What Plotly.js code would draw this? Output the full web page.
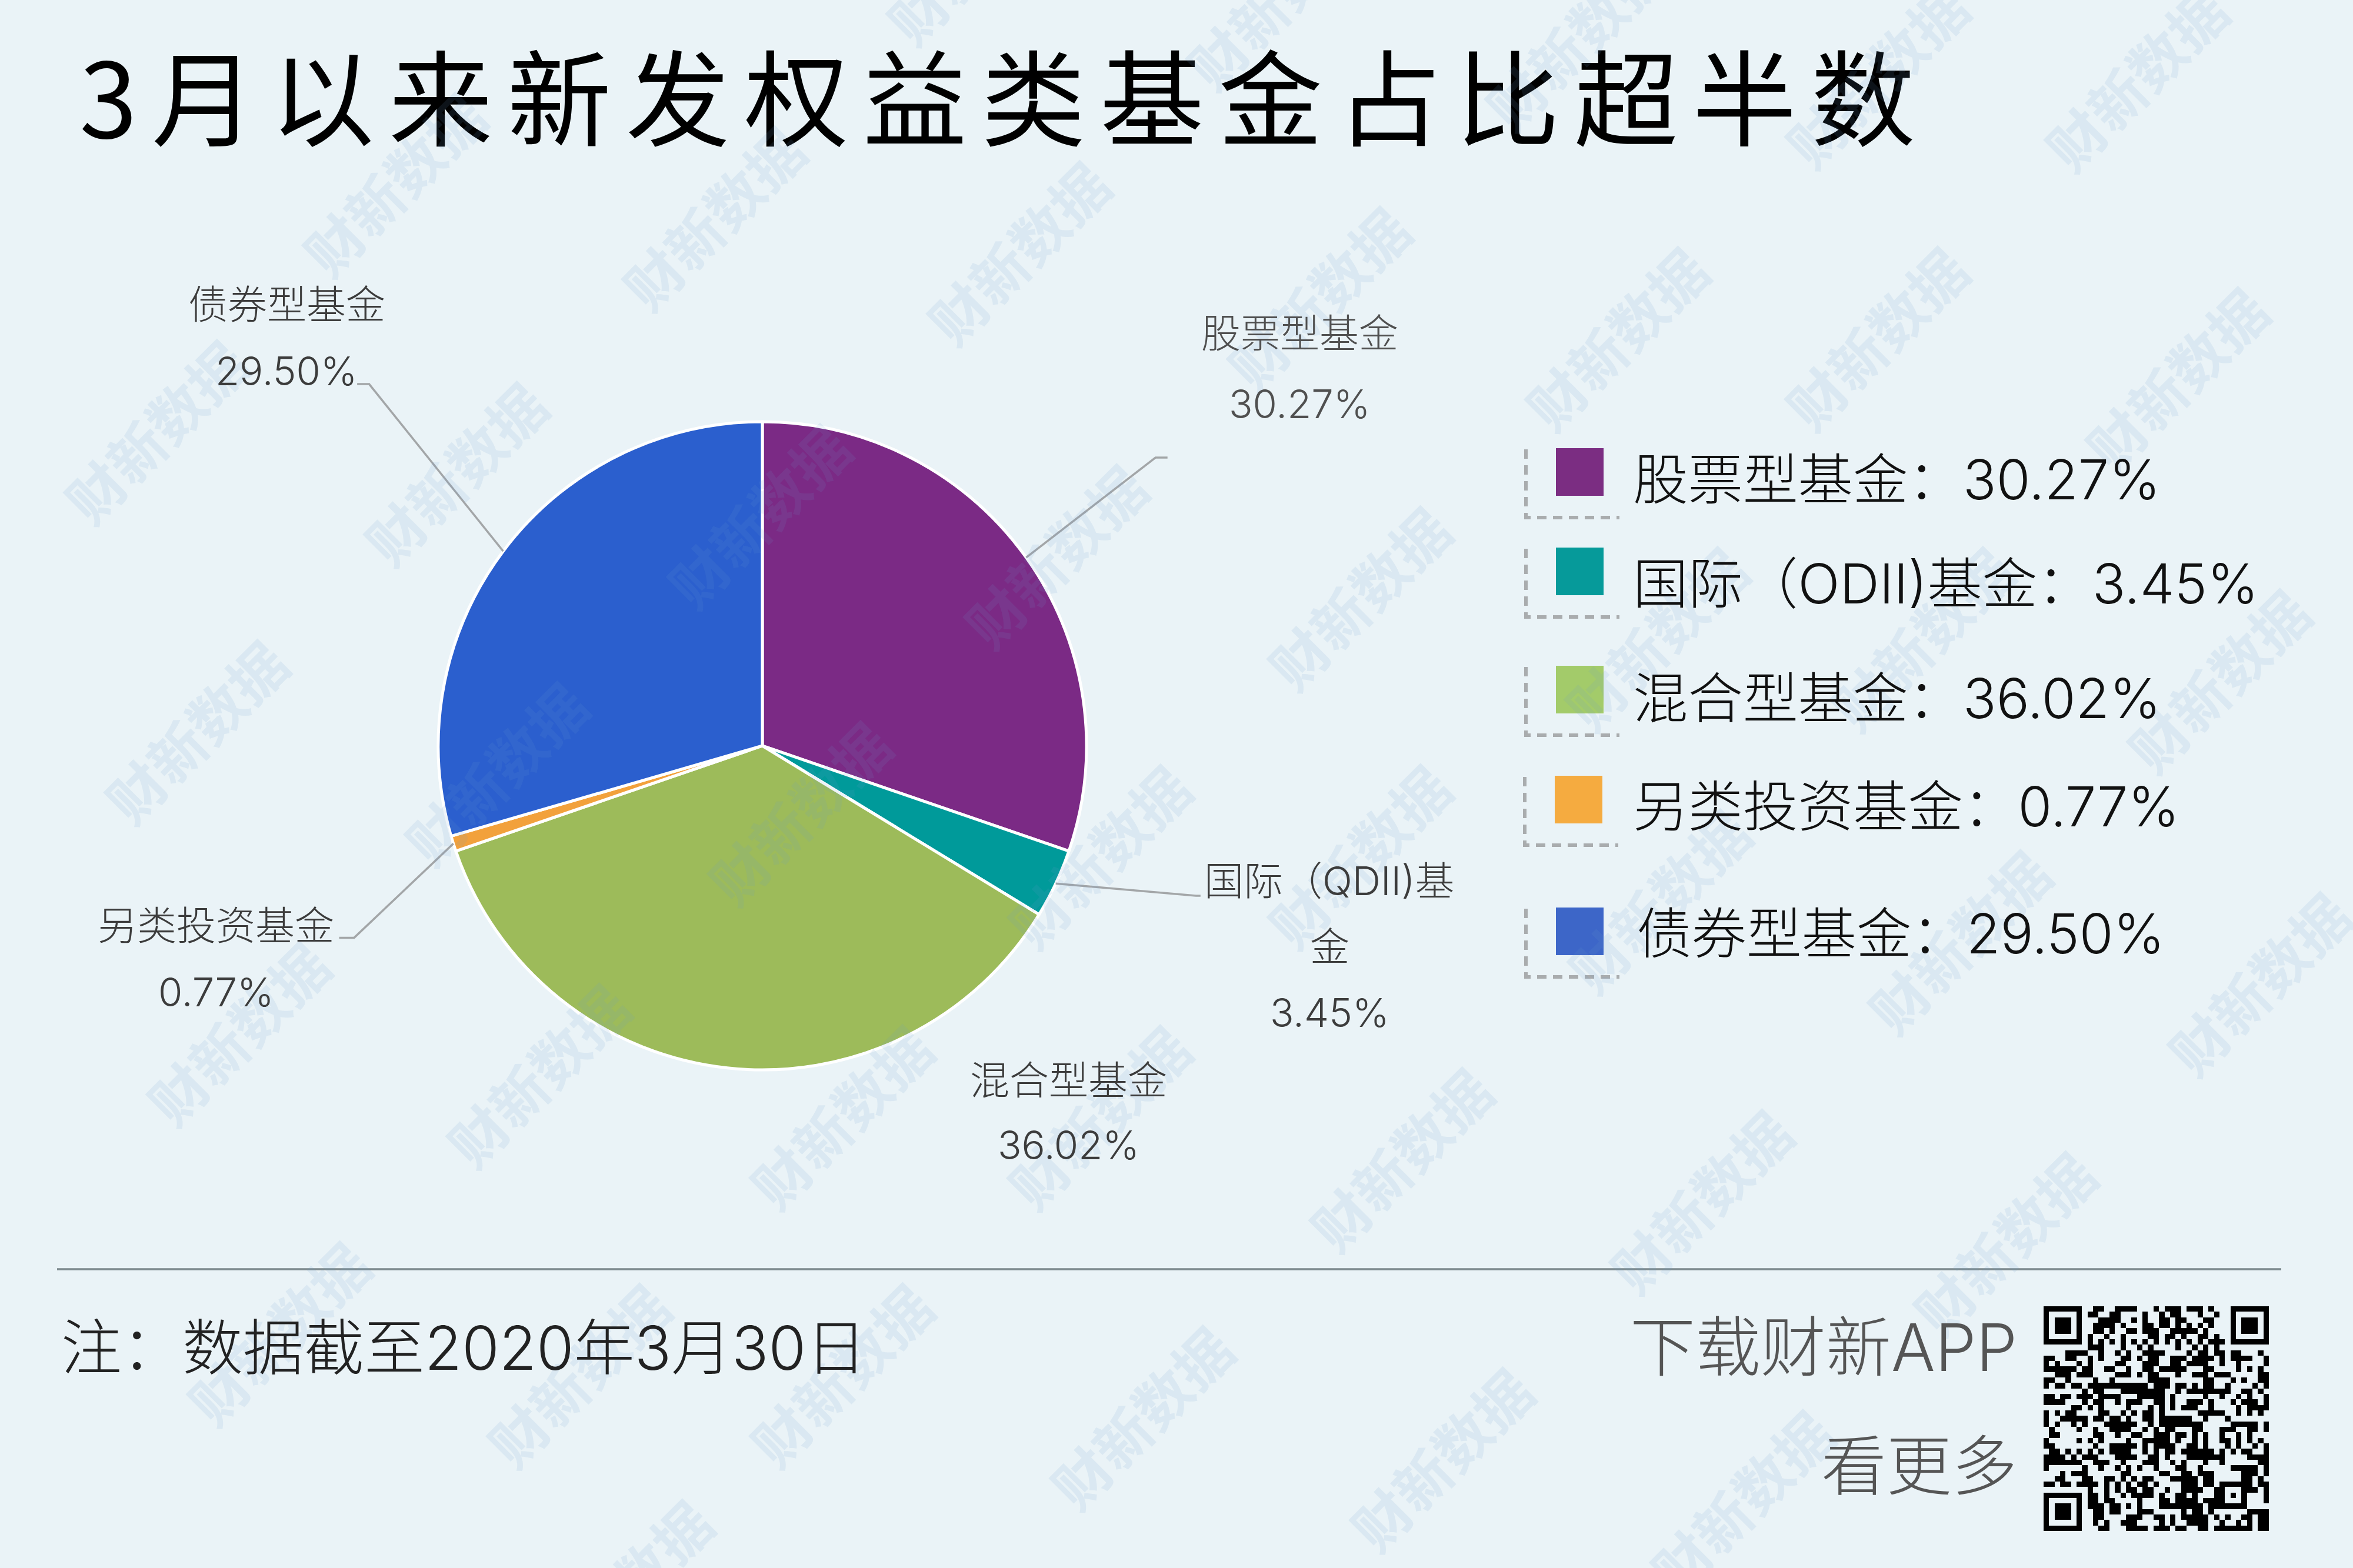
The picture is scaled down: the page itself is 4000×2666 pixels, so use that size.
<!DOCTYPE html>
<html><head><meta charset="utf-8">
<script src="https://cdn.plot.ly/plotly-3.0.1.min.js"></script>
<style>
html,body{margin:0;padding:0;background:#eaf3f7}
#c{width:4000px;height:2666px}
.gtitle{letter-spacing:24.5px}
</style></head><body><div id="c"></div>
<script>
const categories=['股票型基金','国际（QDII)基金','混合型基金','另类投资基金','债券型基金'];
const shares=[30.27,3.45,36.02,0.77,29.50];
const shareLabels=['30.27%','3.45%','36.02%','0.77%','29.50%'];
const sliceColors=['#7B2A85','#009A9A','#9DBB5A','#F2A13C','#2B5FCE'];
const legendColors=['#7B2D82','#069A9A','#A3CB6A','#F5AB40','#3D66C8'];
const legendTexts=['股票型基金：30.27%','国际（ODII)基金：3.45%','混合型基金：36.02%','另类投资基金：0.77%','债券型基金：29.50%'];
const titleText='3月以来新发权益类基金占比超半数';
const noteText='注：数据截至2020年3月30日';
const promoLines=['下载财新APP','看更多'];
const watermarkText='财新数据';
const qrRows=[
'0-6 9-10 13-16 20 22-24 26-28 30 34-40',
'0 6 8-9 12-13 18 21 23-24 28 31 34 40',
'0 2-4 6 10-13 16 18 21-22 24-25 29-30 34 36-38 40',
'0 2-4 6 9-12 14 18-19 21-22 24 26 28 30 34 36-38 40',
'0 2-4 6 9-10 12 15-16 18-20 23-27 29 34 36-38 40',
'0 6 8 11 14 19-20 22-23 25 28-29 31 34 40',
'0-6 8 10 12 14 16 18 20 22 24 26 28 30-32 34-40',
'8-10 14 17 19 24 27 29 31',
'4-7 10 13 15 18-21 26 28-29 31-32 34-35 39',
'0-1 4-5 8 10 14-15 17 19-20 23-25 27-30 32 34-37 40',
'0 2 6 8 13-14 18-20 23-24 26-29 32 35 40',
'0-5 7-8 11-12 15 18-19 21-25 29-30 35 37 39',
'2-4 6-8 13-15 17 19-20 24 27-29 31-33 39-40',
'0-1 4 9 12 19-22 29-30 34 36 39-40',
'0 2-3 5-6 8-18 20-22 24-25 27 29-30 33 38 40',
'7 9-10 14-21 24 26-33 36-37 39',
'0-1 3-4 6-8 10-13 17-21 23 29 32 35 37 40',
'0-3 7 9-10 13 15-17 20-21 23 26-28 30 34 36-38 40',
'5-6 8 10 15 19 21 23 25-27 30 35 37-40',
'0 2 4-5 10-11 14 16 18-19 21 28-32 35 37 39',
'0 3-7 9-10 12-13 15 18-19 21-26 29 33',
'0 2 5 7 11-16 19 21-28 34-38 40',
'1 6 9 12-15 18 20 22-23 27-28 32-34 37-38 40',
'1-2 9-10 13 16-17 20-22 24-25 27 29 32 35 37',
'0 6 8 10 15 18-22 24 27 29 32-33 35 37 39',
'0-1 9 12-16 18 20-23 26-27 29 33 35 38 40',
'1-2 4 6 8 10 12-15 18 20 22-23 25-30 32 34 36-37 40',
'0-3 5 7-9 13-16 19-20 22 26-32 37-40',
'0-6 9-11 14 18-20 23 25 29 32 39-40',
'0 7 10 13 15 17 20 24-25 28 34-38 40',
'3 5-7 14-15 21-22 25-26 28-30 36-38 40',
'2-3 7-8 11-12 14 16 18-19 23-27 29-30 36-37 39',
'0-1 3-4 6-9 11 13 15 17-18 20 25-27 29-30 32-37 39-40',
'8 11 13 15-16 18-19 22 25-28 31-32 36-38 40',
'0-6 8-9 11 14 16-19 21 24-25 27 31-32 34 36 40',
'0 6 8-9 11-12 17 21-22 24-27 29-32 36 40',
'0 2-4 6 8-10 12-13 15 17 21-28 30-36',
'0 2-4 6 9-10 12-13 17-19 25 27-28 30 37-40',
'0 2-4 6 9-10 15-17 20-21 23 25-29 31 33 36-37 39-40',
'0 6 9 11 14-16 21 23 26-29 32 35 37 39-40',
'0-6 10-11 15-18 20-22 24-25 28-29 31-37 39-40'
];

const W=4000,H=2666,S=W/1568;
const px=x=>x/W, py=y=>1-y/H;
const FONT='Inter,"Noto Sans CJK SC","Noto Sans",sans-serif';
const CJK='"Noto Sans CJK SC","Noto Sans",sans-serif';
const CX=1296,CY=1268,R=551;

const qrZ=qrRows.map(r=>{const a=new Array(41).fill(0);
  r.split(' ').forEach(t=>{const p=t.split('-').map(Number);for(let i=p[0];i<=(p[1]??p[0]);i++)a[i]=1;});return a;});

const data=[
 {type:'pie',values:shares,labels:categories,sort:false,direction:'clockwise',rotation:0,
  marker:{colors:sliceColors,line:{color:'#ffffff',width:5}},textinfo:'none',hoverinfo:'skip',showlegend:false,
  domain:{x:[px(CX-R),px(CX+R)],y:[py(CY+R),py(CY-R)]}},
 {type:'heatmap',z:qrZ,xaxis:'x',yaxis:'y',showscale:false,hoverinfo:'skip',zmin:0,zmax:1,
  colorscale:[[0,'rgba(0,0,0,0)'],[1,'#000000']],xgap:0,ygap:0}
];

const anns=[],shapes=[];
const text=(t,x,y,size,color,anchor,weight)=>anns.push({text:t,xref:'paper',yref:'paper',x:px(x),y:py(y),
  xanchor:anchor||'center',yanchor:'middle',showarrow:false,font:{family:FONT,size:size,color:color,weight:weight||300}});

[[651,-32],[851,-2],[1050,25],[1250,50],[1423,52],
 [262,122],[475,145],[678,168],[878,198],[1077,225],[1250,225],[1450,252],
 [103,287],[303,315],[505,343],[703,370],[905,398],[1103,425],[1280,425],[1478,453],
 [130,487],[330,515],[532,541],[732,570],[905,570],[1105,600],[1305,627],[1505,655],
 [158,688],[358,716],[560,744],[732,744],[933,772],[1133,800],[1335,828],
 [185,888],[385,916],[560,916],[760,944],[960,972],[1160,1000],[413,1060]
].forEach(p=>anns.push({text:watermarkText,xref:'paper',yref:'paper',x:px(p[0]*S),y:py(p[1]*S),xanchor:'center',yanchor:'middle',
  showarrow:false,textangle:-45,captureevents:false,font:{family:CJK,size:96,color:'rgba(110,160,205,0.12)',weight:700}}));

const LC='#3c3c3c';
const DY=0;
text(categories[4],191*S,203*S+DY,67,LC); text(shareLabels[4],191*S,247*S+DY,67,LC);
text(categories[0],866*S,222*S+DY,67,'#505050'); text(shareLabels[0],866*S,269*S+DY,67,'#505050');
text('国际（QDII)基',886*S,587*S+DY,67,LC); text('金',886*S,631*S+DY,67,LC); text(shareLabels[1],886*S,675*S+DY,67,LC);
text(categories[2],712*S,720*S+DY,67,LC); text(shareLabels[2],712*S,763*S+DY,67,LC);
text(categories[3],144*S,617*S+DY,67,LC); text(shareLabels[3],144*S,661*S+DY,67,LC);

const total=shares.reduce((a,b)=>a+b,0);
let cum=0;const mids=shares.map(v=>{const m=(cum+v/2)/total*2*Math.PI;cum+=v;return m;});
const leader=(i,x1,y1,x2,y2)=>{const sx=CX+R*Math.sin(mids[i]),sy=CY-R*Math.cos(mids[i]);
  shapes.push({type:'path',xref:'paper',yref:'paper',path:`M${px(sx)},${py(sy)} L${px(x1*S)},${py(y1*S)} L${px(x2*S)},${py(y2*S)}`,
   line:{color:'#a3a6a8',width:3.5}});};
leader(0,770,305,778,305);
leader(1,797,597,800,597);
leader(3,236,625,226,625);
leader(4,246,256,238,256);

const legendRows=[[2645,762,815,2774],[2645,931,992,2774],[2645,1132,1187,2774],[2643,1319,1371,2774],[2645,1543,1587,2780]];
legendRows.forEach((r,i)=>{
  shapes.push({type:'rect',xref:'paper',yref:'paper',x0:px(r[0]),x1:px(r[0]+81),y0:py(r[1]+81),y1:py(r[1]),fillcolor:legendColors[i],line:{width:0}});
  const lx=r[0]-51,top=r[1]+2,bot=r[1]+118;
  shapes.push({type:'path',xref:'paper',yref:'paper',path:`M${px(lx)},${py(top)} L${px(lx)},${py(bot)} L${px(lx+159)},${py(bot)}`,
    line:{color:'#a9acae',width:6,dash:'16px,11px'}});
  text(legendTexts[i],r[3],r[2],93.5,'#111111','left');
});

shapes.push({type:'line',xref:'paper',yref:'paper',x0:px(97),x1:px(3878),y0:py(2158),y1:py(2158),line:{color:'#7d8a8e',width:3.5}});
text(noteText,102,2291,103,'#222222','left');
text(promoLines[0],3431,2290,111,'#555555','right');
text(promoLines[1],3431,2492,111,'#555555','right');

const layout={
 width:W,height:H,margin:{l:0,r:0,t:0,b:0},autosize:false,paper_bgcolor:'#eaf3f7',plot_bgcolor:'rgba(0,0,0,0)',showlegend:false,
 title:{text:titleText,x:px(135),xref:'paper',xanchor:'left',y:py(173),yref:'paper',yanchor:'middle',
   font:{family:CJK,size:177,color:'#000000',weight:400}},
 xaxis:{domain:[px(3474),px(3857)],range:[-0.5,40.5],visible:false,fixedrange:true},
 yaxis:{domain:[py(2603),py(2221)],range:[40.5,-0.5],visible:false,fixedrange:true},
 annotations:anns,shapes:shapes
};
Plotly.newPlot('c',data,layout,{displayModeBar:false,staticPlot:true});
</script></body></html>
